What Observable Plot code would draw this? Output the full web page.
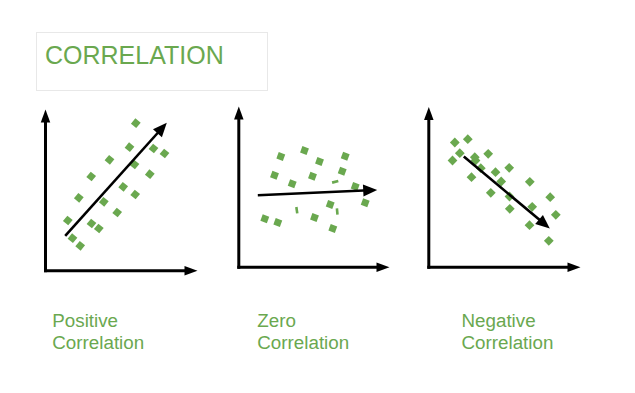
<!DOCTYPE html>
<html>
<head>
<meta charset="utf-8">
<script src="https://cdn.jsdelivr.net/npm/d3@7"></script>
<script src="https://cdn.jsdelivr.net/npm/@observablehq/plot@0.6"></script>
<style>
  body { margin: 0; background: #fff; }
  #wrap { position: relative; width: 635px; height: 393px; }
  #title {
    position: absolute; left: 36px; top: 32px; width: 232px; height: 59px;
    box-sizing: border-box; border: 1px solid #e8e8e8; background: #fff;
    font-family: "Liberation Sans", Arial, sans-serif; font-size: 25px; line-height: 25px;
    color: #6aa84f;
  }
  #title span { position: absolute; left: 8px; top: 9.5px; white-space: nowrap; }
</style>
</head>
<body>
<div id="wrap"><div id="title"><span>CORRELATION</span></div></div>
<script>
// Picture coordinates (x to the right, y downward).
const titleText = "CORRELATION";

const positivePoints = [
  [135.3,122.7],[129,146.7],[153,148],[164,153],[109,159.3],[134,164],
  [90.7,176],[149.3,173.7],[122.7,186.3],[134.7,194],[78.3,197.3],[103.3,201.3],
  [116.7,212],[67.3,220],[91,223],[98.3,228],[72,237.7],[79.7,245.3]
];
const zeroPoints = [
  [280.3,156],[304,150],[344.7,155.7],[319,161],[274,174.7],[341.7,170.7],
  [312,175.7],[291.7,183.3],[354.7,186],[364.7,202.3],[329.7,204],
  [264.3,218.3],[277.3,222],[314,217],[332.3,228]
];
const zeroFragments = [
  [334.7,181.3,75],[296.3,209.7,-8],[336.7,211,-5]
];
const negativePoints = [
  [454.3,142],[467.3,138.7],[459.3,152.7],[452,160],[474.3,156.7],[475,160],
  [487.7,153.3],[480.3,167.7],[495,171.7],[508.7,167.3],[471,176.7],[500.7,181],
  [529.3,181.3],[490.3,192.3],[509,196],[549.7,196.7],[531.7,206.3],[509.3,208.3],
  [555.3,214.3],[529,224.7],[548.3,240.3]
];

// axes of each panel: origin, top of y axis, end of x axis
const panelAxes = [
  {panel: "Positive", ox: 45,    oy: 270.2, top: 109,   right: 197},
  {panel: "Zero",     ox: 238.3, oy: 266.8, top: 106,   right: 389},
  {panel: "Negative", ox: 428.3, oy: 266.8, top: 106.5, right: 580}
];
// trend arrows: start and tip
const trendArrows = [
  {panel: "Positive", x1: 64.7,  y1: 235.3, x2: 166.3, y2: 122.3},
  {panel: "Zero",     x1: 257.3, y1: 194.7, x2: 376.7, y2: 189.4},
  {panel: "Negative", x1: 463.3, y1: 156,   x2: 549.3, y2: 228}
];
const labels = [
  {x: 51.8,  y: 348.3, text: "Positive\nCorrelation"},
  {x: 256.8, y: 348.3, text: "Zero\nCorrelation"},
  {x: 461,   y: 348.3, text: "Negative\nCorrelation"}
];

document.querySelector("#title span").textContent = titleText;

const green = "#6aa84f";
const font = "Liberation Sans, Arial, sans-serif";

// arrow head symbol: tip at origin, pointing up
const headSymbol = (len, wid) => ({
  draw(ctx) { ctx.moveTo(0, 0); ctx.lineTo(wid / 2, len); ctx.lineTo(-wid / 2, len); ctx.closePath(); }
});
const barSymbol = {
  draw(ctx) { ctx.rect(-1.3, -3.2, 2.6, 6.4); }
};

const axisSegs = panelAxes.flatMap(a => [
  {x1: a.ox, y1: a.oy, x2: a.ox, y2: a.top},
  {x1: a.ox, y1: a.oy, x2: a.right, y2: a.oy}
]);
function withHead(s, back) {
  const dx = s.x2 - s.x1, dy = s.y2 - s.y1, L = Math.hypot(dx, dy);
  return {...s, ex: s.x2 - dx / L * back, ey: s.y2 - dy / L * back,
          angle: Math.atan2(dx, -dy) * 180 / Math.PI};
}
const axisA = axisSegs.map(s => withHead(s, 8));
const trendA = trendArrows.map(s => withHead(s, 8));

const sq = (pts, rot) => Plot.dot(pts, {x: d => d[0], y: d => d[1], symbol: "square", r: 3.9, fill: green, rotate: rot});

const chart = Plot.plot({
  width: 635, height: 393,
  margin: 0,
  x: {domain: [0, 635], range: [0, 635], axis: null},
  y: {domain: [0, 393], range: [0, 393], axis: null},
  style: {background: "#fff", fontFamily: font},
  marks: [
    sq(positivePoints, 40),
    sq(zeroPoints, 20),
    Plot.dot(zeroFragments, {x: d => d[0], y: d => d[1], symbol: barSymbol, r: 1, fill: green, rotate: d => d[2]}),
    sq(negativePoints, 45),
    Plot.link(axisA, {x1: "x1", y1: "y1", x2: "ex", y2: "ey", stroke: "black", strokeWidth: 3, strokeLinecap: "square"}),
    Plot.dot(axisA, {x: "x2", y: "y2", symbol: headSymbol(13, 9.5), r: 1, fill: "black", rotate: "angle"}),
    Plot.link(trendA, {x1: "x1", y1: "y1", x2: "ex", y2: "ey", stroke: "black", strokeWidth: 2.6, strokeLinecap: "butt"}),
    Plot.dot(trendA, {x: "x2", y: "y2", symbol: headSymbol(14, 12), r: 1, fill: "black", rotate: "angle"}),
    Plot.text(labels, {x: "x", y: "y", text: "text", textAnchor: "start", lineAnchor: "bottom",
      fontSize: 18.8, lineHeight: 1.17, fill: green, fontFamily: font})
  ]
});
document.getElementById("wrap").prepend(chart);
</script>
</body>
</html>
